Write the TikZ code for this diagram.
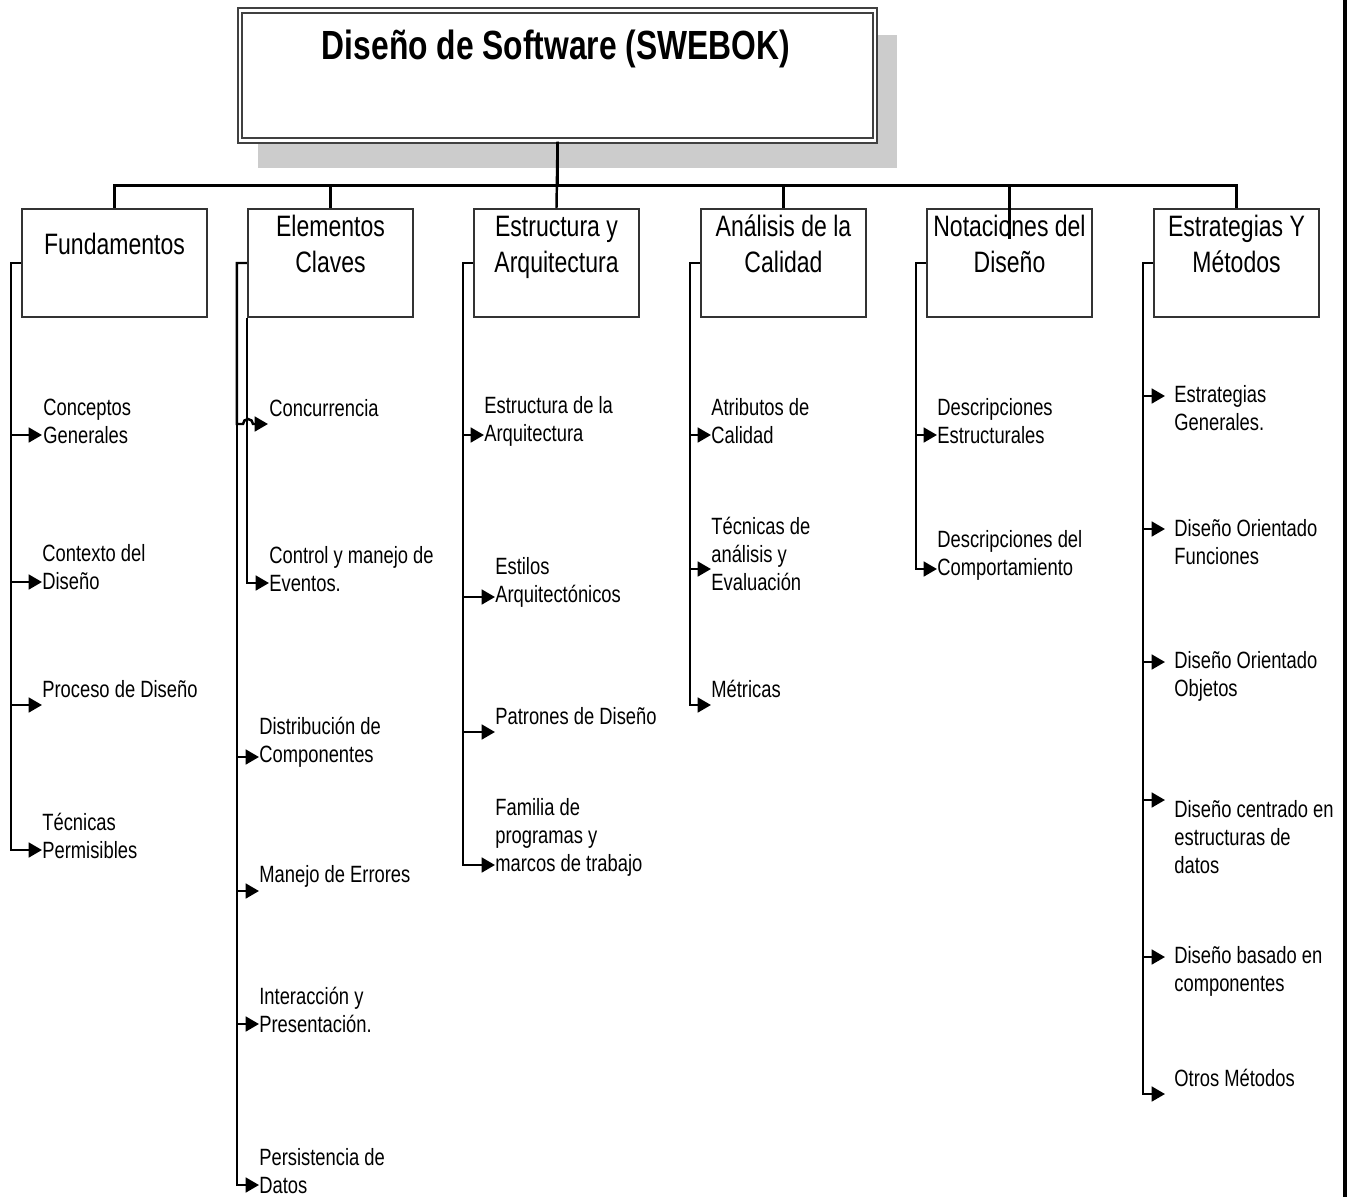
\documentclass[tikz,border=0pt]{standalone}
\usepackage{fontspec}
\setmainfont{Liberation Sans}[FakeStretch=0.78]
\usetikzlibrary{arrows.meta,calc}
\begin{document}
\begin{tikzpicture}[x=0.02cm,y=-0.02cm,
  conn/.style={line width=1.4pt,draw=black},
  arr/.style={conn,-{Triangle[length=7.6pt,width=8.4pt]}},
  catbox/.style={draw=black!80,line width=1.3pt,fill=white,minimum width=3.3cm,minimum height=2.16cm,inner sep=0pt},
  cattext/.style={align=center,inner sep=0pt,font=\fontsize{16.8pt}{20.4pt}\selectfont},
  item/.style={anchor=west,align=left,inner sep=0pt,font=\fontsize{13.4pt}{15.9pt}\selectfont},
]
\useasboundingbox (0,0) rectangle (1349,1197);

% root box with its shadow
\fill[gray!40] (258,35) rectangle (897,168);
\node[draw=black!75,line width=1.2pt,double=white,double distance=1.2pt,fill=white,
      minimum width=12.7cm,minimum height=2.6cm,inner sep=0pt] (root) at (557.5,75.5) {};
\node[inner sep=0pt,font=\fontsize{23.2pt}{28pt}\selectfont\bfseries] (roottxt) at (556,49) {Diseño de Software (SWEBOK)};

% category boxes
\node[catbox,minimum width=3.7cm] (fund) at (114.5,263) {};
\node[catbox] (elem) at (330.5,263) {};
\node[catbox] (estr) at (556.5,263) {};
\node[catbox] (anal) at (783.5,263) {};
\node[catbox] (nota) at (1009.5,263) {};
\node[catbox] (estg) at (1236.5,263) {};

\node[cattext] (fundt) at (114.5,244) {Fundamentos};
\node[cattext] (elemt) at (330.5,244) {Elementos\\Claves};
\node[cattext] (estrt) at (556.5,247) {Estructura y\\Arquitectura};
\node[cattext] (analt) at (783.5,244) {Análisis de la\\Calidad};
\node[cattext] (notat) at (1009.5,244) {Notaciones del\\Diseño};
\node[cattext] (estgt) at (1236.5,244) {Estrategias Y\\Métodos};

% tree from the root to the categories
\draw[conn] (root.south) -- (estr.north);
\draw[conn] (root.south) -- ++(0,44) -| (fund.north);
\draw[conn] (root.south) -- ++(0,44) -| (elem.north);
\draw[conn] (root.south) -- ++(0,44) -| (anal.north);
\draw[conn] (root.south) -- ++(0,44) -| ($(nota.north)+(0,31)$);
\draw[conn] (root.south) -- ++(0,44) -| (estg.north);

% Fundamentos
\node[item] (f1) at (43,421) {Conceptos\\Generales};
\node[item] (f2) at (42,567) {Contexto del\\Diseño};
\node[item] (f3) at (42,689) {Proceso de Diseño};
\node[item] (f4) at (42,836) {Técnicas\\Permisibles};
\coordinate (f1t) at (42,435);
\coordinate (f2t) at (42,582);
\coordinate (f3t) at (42,705);
\coordinate (f4t) at (42,850);
\foreach \t in {f1t,f2t,f3t,f4t}
  \draw[arr] (fund.west) -- ++(-10,0) |- (\t);

% Elementos Claves
\node[item] (e1) at (269,408) {Concurrencia};
\node[item] (e2) at (269,569) {Control y manejo de\\Eventos.};
\node[item] (e3) at (259,742) {Distribución de\\Componentes};
\node[item] (e4) at (259,876) {Manejo de Errores};
\node[item] (e5) at (259,1010) {Interacción y\\Presentación.};
\node[item] (e6) at (259,1171) {Persistencia de\\Datos};
\coordinate (e1t) at (268,424);
\coordinate (e2t) at (269,583);
\coordinate (e3t) at (259,757);
\coordinate (e4t) at (259,891);
\coordinate (e5t) at (259,1024);
\coordinate (e6t) at (259,1185);
\draw[arr] (elem.west) -- ++(-10,0) |- ($(e1t)+(-25,0)$)
  arc[start angle=180,end angle=360,radius=5] -- (e1t);
\draw[arr] (elem.south west) |- (e2t);
\foreach \t in {e3t,e4t,e5t,e6t}
  \draw[arr] (elem.west) -- ++(-10,0) |- (\t);

% Estructura y Arquitectura
\node[item] (s1) at (484,421) {Estructura de la\\Arquitectura};
\node[item] (s2) at (495,582) {Estilos\\Arquitectónicos};
\node[item] (s3) at (495,716) {Patrones de Diseño};
\node[item] (s4) at (495,837) {Familia de\\programas y\\marcos de trabajo};
\coordinate (s1t) at (484,435);
\coordinate (s2t) at (495,597);
\coordinate (s3t) at (495,732);
\coordinate (s4t) at (495,865);
\foreach \t in {s1t,s2t,s3t,s4t}
  \draw[arr] (estr.west) -- ++(-10,0) |- (\t);

% Analisis de la Calidad
\node[item] (a1) at (711,421) {Atributos de\\Calidad};
\node[item] (a2) at (711,554) {Técnicas de\\análisis y\\Evaluación};
\node[item] (a3) at (711,689) {Métricas};
\coordinate (a1t) at (711,435);
\coordinate (a2t) at (711,569);
\coordinate (a3t) at (711,705);
\foreach \t in {a1t,a2t,a3t}
  \draw[arr] (anal.west) -- ++(-10,0) |- (\t);

% Notaciones del Diseno
\node[item] (n1) at (937,421) {Descripciones\\Estructurales};
\node[item] (n2) at (937,555) {Descripciones del\\Comportamiento};
\coordinate (n1t) at (937,435);
\coordinate (n2t) at (937,569);
\foreach \t in {n1t,n2t}
  \draw[arr] (nota.west) -- ++(-10,0) |- (\t);

% Estrategias y Metodos
\node[item] (g1) at (1174,408) {Estrategias\\Generales.};
\node[item] (g2) at (1174,542) {Diseño Orientado\\Funciones};
\node[item] (g3) at (1174,676) {Diseño Orientado\\Objetos};
\node[item] (g4) at (1174,837) {Diseño centrado en\\estructuras de\\datos};
\node[item] (g5) at (1174,971) {Diseño basado en\\componentes};
\node[item] (g6) at (1174,1078) {Otros Métodos};
\coordinate (g1t) at (1165,396);
\coordinate (g2t) at (1165,529);
\coordinate (g3t) at (1165,662);
\coordinate (g4t) at (1165,800);
\coordinate (g5t) at (1165,957);
\coordinate (g6t) at (1165,1094);
\foreach \t in {g1t,g2t,g3t,g4t,g5t,g6t}
  \draw[arr] (estg.west) -- ++(-10,0) |- (\t);

% page rule on the right
\draw[line width=2pt] (1345,0) -- (1345,1197);
\end{tikzpicture}
\end{document}
